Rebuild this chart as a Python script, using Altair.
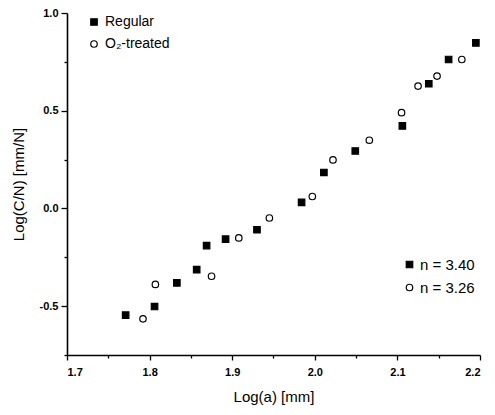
import altair as alt
import pandas as pd

# Regular (filled squares)
reg_x = [1.771, 1.806, 1.833, 1.857, 1.869, 1.892, 1.930, 1.984, 2.011, 2.049, 2.106, 2.138, 2.162, 2.195]
reg_y = [-0.546, -0.502, -0.381, -0.313, -0.190, -0.157, -0.109, 0.031, 0.184, 0.294, 0.422, 0.638, 0.762, 0.847]
# O2-treated (open circles)
o2_x = [1.792, 1.807, 1.875, 1.908, 1.945, 1.997, 2.022, 2.066, 2.105, 2.125, 2.148, 2.178]
o2_y = [-0.565, -0.389, -0.347, -0.151, -0.049, 0.061, 0.248, 0.349, 0.490, 0.626, 0.677, 0.762]

series_names = ["Regular", "O\u2082-treated"]
n_labels = ["n = 3.40", "n = 3.26"]

x_ticks = [1.7, 1.75, 1.8, 1.85, 1.9, 1.95, 2.0, 2.05, 2.1, 2.15, 2.2]
y_ticks = [-0.75, -0.5, -0.25, 0.0, 0.25, 0.5, 0.75, 1.0]

rows = []
for x, y in zip(reg_x, reg_y):
    rows.append({"x": x, "y": y, "series": series_names[0], "nlab": n_labels[0]})
for x, y in zip(o2_x, o2_y):
    rows.append({"x": x, "y": y, "series": series_names[1], "nlab": n_labels[1]})
df = pd.DataFrame(rows)

FONT = "Liberation Sans"

x_enc = alt.X("x:Q", scale=alt.Scale(domain=[1.7, 2.2], nice=False, zero=False),
              axis=alt.Axis(title="Log(a) [mm]", values=x_ticks,
                            labelExpr="abs(datum.value*10 - round(datum.value*10)) < 0.01 ? format(datum.value, '.1f') : ''",
                            tickSize={"condition": {"test": "abs(datum.value*10 - round(datum.value*10)) < 0.01", "value": 5}, "value": 3},
                            labelPadding=6, titlePadding=12, grid=False))
y_enc = alt.Y("y:Q", scale=alt.Scale(domain=[-0.75, 1.0], nice=False, zero=False),
              axis=alt.Axis(title="Log(C/N) [mm/N]", values=y_ticks,
                            labelExpr="abs(datum.value*2 - round(datum.value*2)) < 0.01 ? (datum.value < 0 ? '-' : '') + format(abs(datum.value), '.1f') : ''",
                            tickSize={"condition": {"test": "abs(datum.value*2 - round(datum.value*2)) < 0.01", "value": 6}, "value": 3},
                            labelPadding=3, titlePadding=13, grid=False))

pts = alt.Chart(df).mark_point(filled=True, strokeWidth=1.2, opacity=1, fillOpacity=1, size=42).encode(
    x=x_enc, y=y_enc,
    shape=alt.Shape("series:N", scale=alt.Scale(domain=series_names, range=["square", "circle"]),
                    legend=alt.Legend(title=None, orient="none", legendX=20, legendY=2,
                                      labelFontSize=14, labelFont=FONT, labelColor="black",
                                      symbolStrokeColor="black", symbolStrokeWidth=1.2, symbolSize=42,
                                      labelOffset=4, rowPadding=8, padding=0)),
    fill=alt.Fill("series:N", scale=alt.Scale(domain=series_names, range=["black", "white"]), legend=None),
    stroke=alt.Stroke("series:N", scale=alt.Scale(domain=series_names, range=["black", "black"]), legend=None),
)

pts2 = alt.Chart(df).mark_point(filled=True, strokeWidth=1.2, opacity=0, size=42).encode(
    x="x:Q", y="y:Q",
    shape=alt.Shape("nlab:N", scale=alt.Scale(domain=n_labels, range=["square", "circle"]),
                    legend=alt.Legend(title=None, orient="none", legendX=335, legendY=244,
                                      labelFontSize=15, labelFont=FONT, labelColor="black",
                                      symbolOpacity=1, symbolStrokeColor="black", symbolStrokeWidth=1.2, symbolSize=42,
                                      labelOffset=3, rowPadding=7, padding=0)),
    fill=alt.Fill("nlab:N", scale=alt.Scale(domain=n_labels, range=["black", "white"]), legend=None),
    stroke=alt.Stroke("nlab:N", scale=alt.Scale(domain=n_labels, range=["black", "black"]), legend=None),
)

chart = alt.layer(pts, pts2).resolve_scale(
    shape="independent", fill="independent", stroke="independent"
).properties(
    width=413, height=342,
    background="white",
    autosize=alt.AutoSizeParams(type="none"),
    padding={"left": 59, "top": 5, "right": 7, "bottom": 52},
).configure_view(stroke=None).configure_axis(
    domainColor="black", domainWidth=1.6, tickColor="black", tickWidth=1.3,
    labelFont=FONT, labelFontSize=11, labelFontWeight="bold", labelColor="black",
    titleFont=FONT, titleFontSize=15, titleFontWeight="normal", titleColor="black",
)

chart.save("out.html", embed_options={"renderer": "svg", "actions": False})
